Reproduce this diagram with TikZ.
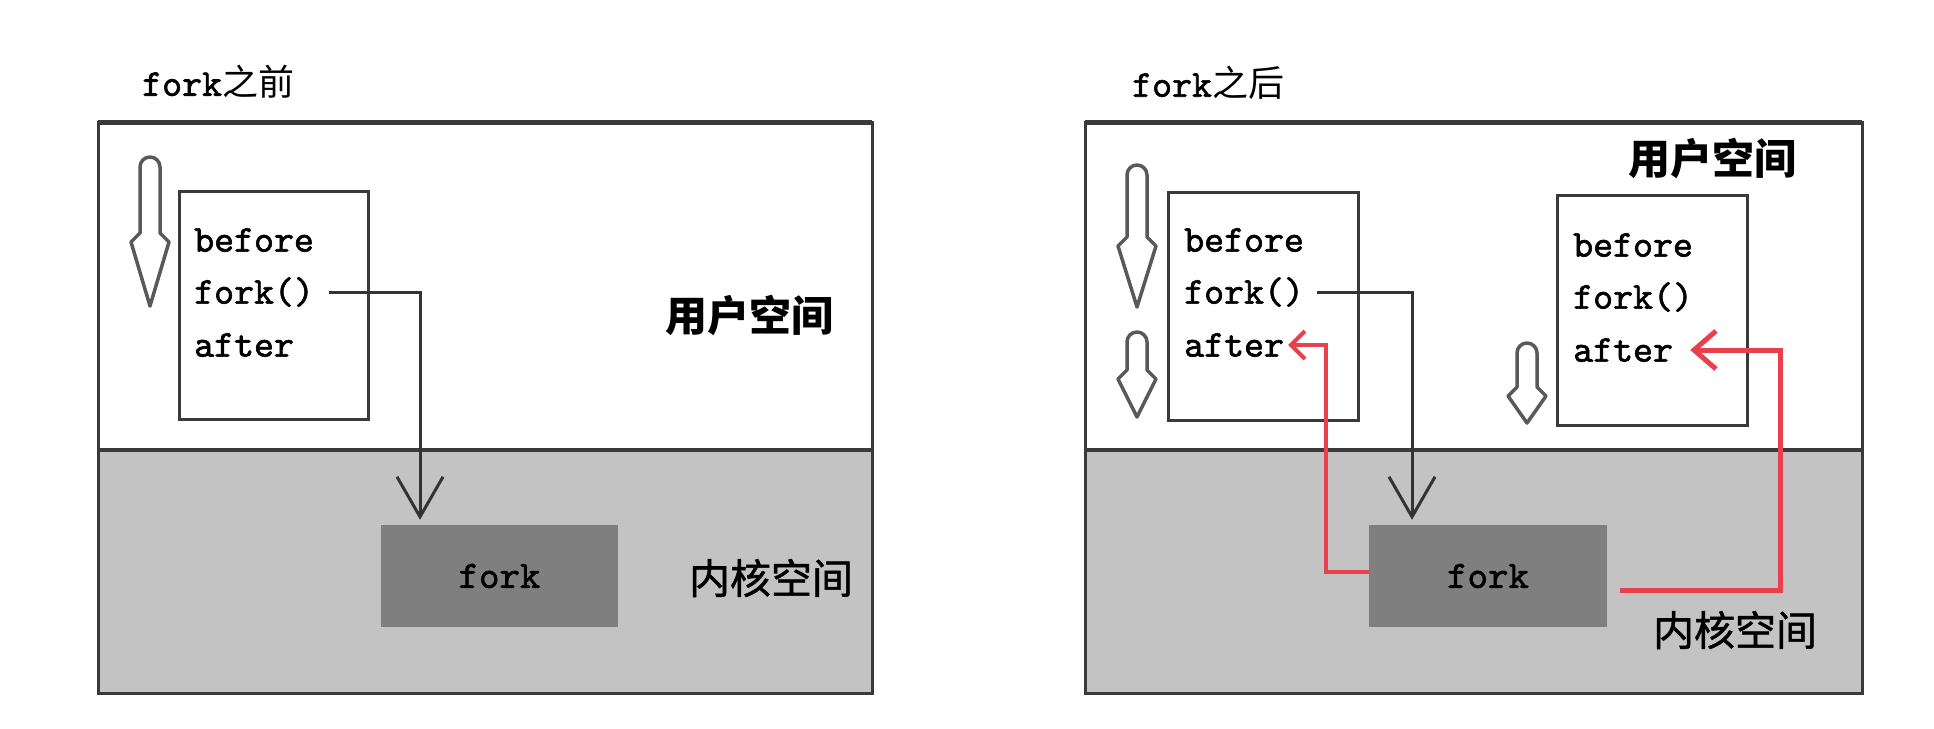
\documentclass[tikz,border=0pt]{standalone}
\usepackage{fontspec}
\newfontfamily\cjk{Noto Sans CJK SC}
\newfontfamily\cjkm{Noto Sans CJK SC}[FakeBold=1.2]
\newfontfamily\codefont{lmmono10-regular.otf}[FakeBold=1.6]
\usetikzlibrary{arrows.meta}
\definecolor{kgray}{HTML}{7F7F7F}
\definecolor{panelgray}{HTML}{C3C3C3}
\definecolor{redc}{HTML}{E8414D}
\definecolor{ink}{HTML}{3A3A3A}
\tikzset{
  frame/.style={draw=ink, line width=3pt},
  topline/.style={draw=ink, line width=5pt},
  codebox/.style={draw=ink, line width=3pt, fill=white, inner sep=0pt},
  kbox/.style={fill=kgray, inner sep=0pt, text=black, font=\codefont\fontsize{39}{39}\selectfont},
  code/.style={anchor=west, inner sep=0pt, font=\codefont\fontsize{38}{38}\selectfont},
  title/.style={anchor=west, inner sep=0pt},
  ulabel/.style={inner sep=0pt, font=\cjk\bfseries\fontsize{42}{42}\selectfont},
  klabel/.style={inner sep=0pt, font=\cjkm\fontsize{41}{41}\selectfont},
  harrow/.style={draw=black!65, line width=3.5pt, fill=white, line join=round},
  callline/.style={draw=black!80, line width=3pt, -{Straight Barb[length=40pt,width=46pt]}},
  retline/.style={draw=redc, line width=4pt, -{Straight Barb[length=14pt,width=28pt]}}
}
\newcommand\harr[4]{%
  \draw[harrow] (#1-10,#3) -- (#1-10,#2+10) arc[start angle=180, end angle=360, radius=10]
    -- (#1+10,#3) -- (#1+19,#3+9) -- (#1,#4) -- (#1-19,#3+9) -- cycle;}
\begin{document}
\begin{tikzpicture}[x=1pt,y=-1pt]
\useasboundingbox (0,0) rectangle (1934,728);
\fill[white] (0,0) rectangle (1934,728);

% ---------- left panel ----------
\node[title] (t1) at (142,82) {\codefont\fontsize{38}{38}\selectfont fork\cjk\fontsize{36}{36}\selectfont 之前};
\fill[panelgray] (98,450) rectangle (872,693);
\draw[frame] (98,122) rectangle (872,693);
\draw[topline] (98,122) -- (872,122);
\draw[frame, line width=4pt] (98,450) -- (872,450);

\harr{150}{157}{233}{306}
\node[codebox, minimum width=189pt, minimum height=228pt] (box1) at (273.5,305.5) {};
\node[code] (b1) at (194,240) {before};
\node[code] (f1) at (194,292) {fork()};
\node[code] (a1) at (194,345) {after};
\node[kbox, minimum width=237pt, minimum height=102pt] (k1) at (499.5,576) {fork};
\node[ulabel] (u1) at (749,315) {用户空间};
\node[klabel] (kl1) at (771,578) {内核空间};
\draw[callline] ([xshift=15pt]f1.east) -| ([xshift=-79.5pt,yshift=5pt]k1.north);

% ---------- right panel ----------
\node[title] (t2) at (1132,83) {\codefont\fontsize{38}{38}\selectfont fork\cjk\fontsize{36}{36}\selectfont 之后};
\fill[panelgray] (1085,450) rectangle (1862,693);
\draw[frame] (1085,122) rectangle (1862,693);
\draw[topline] (1085,122) -- (1862,122);
\draw[frame, line width=4pt] (1085,450) -- (1862,450);

\harr{1137}{165}{237}{307}
\harr{1137}{332}{370}{417}
\harr{1527}{343}{387}{423}
\node[codebox, minimum width=190pt, minimum height=228pt] (box2) at (1263,306) {};
\node[code] (b2) at (1184,240) {before};
\node[code] (f2) at (1184,292) {fork()};
\node[code] (a2) at (1184,345) {after};
\node[codebox, minimum width=190pt, minimum height=230pt] (box3) at (1652,310) {};
\node[code] (b3) at (1573,245) {before};
\node[code] (f3) at (1573,297) {fork()};
\node[code] (a3) at (1573,350) {after};
\node[kbox, minimum width=238pt, minimum height=102pt] (k2) at (1488,576) {fork};
\node[ulabel] (u2) at (1712,158) {用户空间};
\node[klabel] (kl2) at (1735,630) {内核空间};
\draw[callline] ([xshift=13pt]f2.east) -| ([xshift=-76pt,yshift=5pt]k2.north);
\draw[retline] ([yshift=4pt]k2.west) -- ++(-43,0) |- ([xshift=4pt]a2.east);
\draw[retline, line width=5pt, -{Straight Barb[length=22pt,width=38pt]}] ([xshift=13pt,yshift=-14pt]k2.east) -- ++(160,0) |- ([xshift=17pt]a3.east);
\end{tikzpicture}
\end{document}
